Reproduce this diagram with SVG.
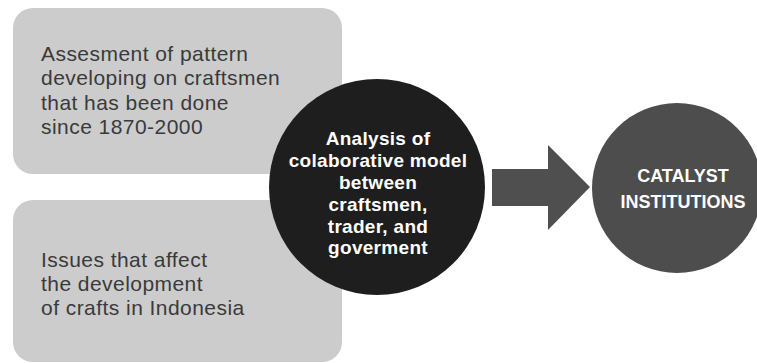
<svg xmlns="http://www.w3.org/2000/svg" width="757" height="363" viewBox="0 0 757 363">
<style>
.box{fill:#cccccc}
.lt{font-family:"Liberation Sans",Arial,sans-serif;font-size:21px;fill:#3a3a3a;letter-spacing:0.45px}
.ct{font-family:"Liberation Sans",Arial,sans-serif;font-size:19px;font-weight:bold;fill:#ffffff;text-anchor:middle;letter-spacing:0.3px}
.rt{font-family:"Liberation Sans",Arial,sans-serif;font-size:18px;font-weight:bold;fill:#ffffff;text-anchor:middle}
</style>
<rect width="757" height="363" fill="#ffffff"/>
<g id="box-assessment">
<rect class="box" x="13" y="8" width="329" height="166" rx="20"/>
<text class="lt" x="41" y="61">Assesment of pattern</text>
<text class="lt" x="41" y="85">developing on craftsmen</text>
<text class="lt" x="41" y="110">that has been done</text>
<text class="lt" x="41" y="134">since 1870-2000</text>
</g>
<g id="box-issues">
<rect class="box" x="13" y="200" width="329" height="162" rx="20"/>
<text class="lt" x="41" y="267">Issues that affect</text>
<text class="lt" x="41" y="291">the development</text>
<text class="lt" x="41" y="315">of crafts in Indonesia</text>
</g>
<g id="analysis">
<circle cx="377" cy="187" r="108" fill="#1e1e1e"/>
<text class="ct" x="378" y="145">Analysis of</text>
<text class="ct" x="378" y="167">colaborative model</text>
<text class="ct" x="378" y="189">between</text>
<text class="ct" x="378" y="211">craftsmen,</text>
<text class="ct" x="378" y="233">trader, and</text>
<text class="ct" x="378" y="254">goverment</text>
</g>
<g id="connectors">
<polygon points="492,169 548,169 548,145 590,187 548,230 548,206 492,206" fill="#4f4f4f"/>
</g>
<g id="catalyst">
<circle cx="677" cy="188" r="85" fill="#4d4d4d"/>
<text class="rt" x="683" y="182">CATALYST</text>
<text class="rt" x="683" y="208">INSTITUTIONS</text>
</g>
</svg>
